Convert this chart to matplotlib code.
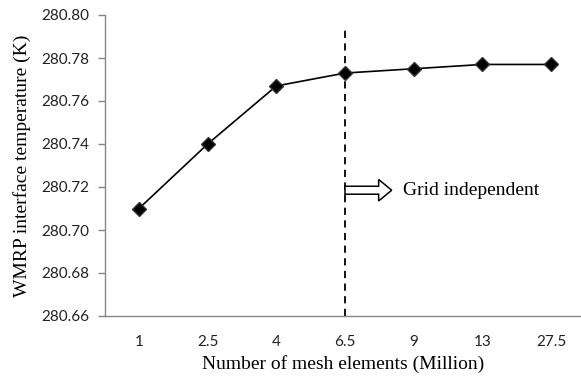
import numpy as np
import matplotlib.pyplot as plt
from matplotlib.patches import FancyArrow

# mesh sizes (million elements) and interface temperature (K)
mesh_labels = ['1', '2.5', '4', '6.5', '9', '13', '27.5']
temperature = [280.710, 280.740, 280.767, 280.773, 280.775, 280.777, 280.777]
y_ticks = [280.66, 280.68, 280.70, 280.72, 280.74, 280.76, 280.78, 280.80]

x = np.arange(len(mesh_labels))

fig = plt.figure(figsize=(5.81, 3.76), dpi=100)
ax = fig.add_axes([105 / 581, 1 - 316 / 376, 476 / 581, (316 - 15) / 376])

ax.plot(x, temperature, color='black', lw=1.2, marker='D', markersize=7.5,
        markerfacecolor='black', markeredgecolor='#333333', zorder=3)

# grid independence marker at 6.5 million
ax.plot([3, 3], [280.66, 280.7945], color='black', lw=1.3, ls=(0, (4, 3)), zorder=2)
ax.add_patch(FancyArrow(3.0, 280.7185, 0.68, 0, width=0.0037, head_width=0.0100,
                        head_length=0.19, length_includes_head=True,
                        facecolor='white', edgecolor='black', lw=1.1, zorder=4))
ax.text(3.84, 280.7185, 'Grid independent', family='Liberation Serif', fontsize=14,
        va='center', ha='left')

ax.set_xlim(-0.495, 6.437)
ax.set_ylim(280.66, 280.80)
ax.set_xticks(x)
ax.set_xticklabels(mesh_labels)
ax.set_yticks(y_ticks)
ax.set_yticklabels(['%.2f' % v for v in y_ticks])
for lab in ax.get_xticklabels() + ax.get_yticklabels():
    lab.set_family('Lato')
    lab.set_fontsize(11)
    lab.set_color('#222222')

ax.tick_params(axis='x', length=0, pad=14)
ax.tick_params(axis='y', length=5, width=1, color='#868686', pad=6)
for s in ['top', 'right']:
    ax.spines[s].set_visible(False)
for s in ['left', 'bottom']:
    ax.spines[s].set_color('#868686')
    ax.spines[s].set_linewidth(1)

ax.set_xlabel('Number of mesh elements (Million)', family='Liberation Serif', fontsize=14, labelpad=4)
ax.set_ylabel('WMRP interface temperature (K)', family='Liberation Serif', fontsize=14, labelpad=8)

fig.savefig('out.png', dpi=100)
